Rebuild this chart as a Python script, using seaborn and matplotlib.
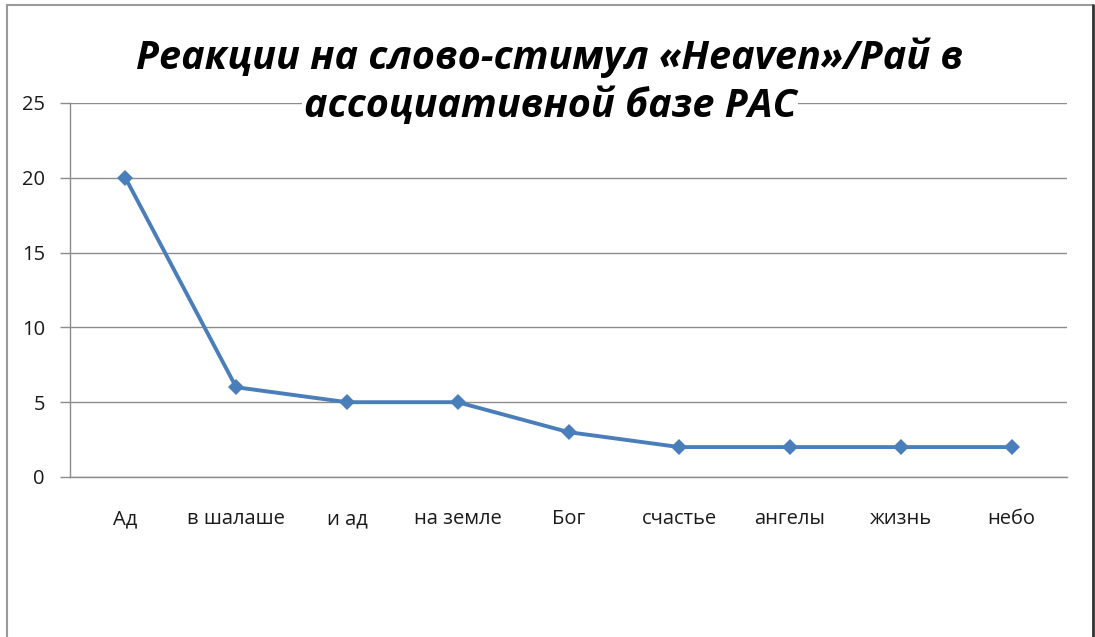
import matplotlib
matplotlib.use("Agg")
import matplotlib.pyplot as plt
from matplotlib.lines import Line2D
import seaborn as sns
import numpy as np

# data
categories = ["Ад", "в шалаше", "и ад", "на земле", "Бог", "счастье", "ангелы", "жизнь", "небо"]
counts = [20, 6, 5, 5, 3, 2, 2, 2, 2]
y_ticks = [0, 5, 10, 15, 20, 25]
title_lines = ["Реакции на слово-стимул «Heaven»/Рай в", "ассоциативной базе РАС"]

sns.set_style("white")
plt.rcParams["font.family"] = ["Open Sans", "DejaVu Sans"]

fig = plt.figure(figsize=(10.95, 6.37), dpi=100)
ax = fig.add_axes([70 / 1095, 1 - 477 / 637, 997 / 1095, 374 / 637])

sns.lineplot(x=categories, y=counts, ax=ax, color="#4A7EBB", linewidth=2.8,
             marker="D", markersize=8.5, markeredgewidth=0, sort=False)

ax.set_xlim(-0.5, len(categories) - 0.5)
ax.set_ylim(0, 25)
ax.set_yticks(y_ticks)
ax.set_xticks(np.arange(len(categories)))
ax.set_xticklabels(categories)
ax.set_xticks(np.arange(len(categories) + 1) - 0.5, minor=True)
ax.tick_params(axis="x", which="major", length=0, pad=23, labelsize=14.5, colors="#1A1A1A")
ax.tick_params(axis="x", which="minor", length=7, width=1, color="#8C8C8C", direction="out")
ax.tick_params(axis="y", length=7, width=1, color="#8C8C8C", direction="out",
               pad=11, labelsize=14.5, labelcolor="#1A1A1A", left=True)
ax.yaxis.grid(True, color="#8C8C8C", linewidth=1)
ax.xaxis.grid(False)
ax.set_axisbelow(True)
for side in ["top", "right"]:
    ax.spines[side].set_visible(False)
for side in ["left", "bottom"]:
    ax.spines[side].set_color("#8C8C8C")
    ax.spines[side].set_linewidth(1)
ax.set_xlabel("")
ax.set_ylabel("")

# title, two lines, each with its own white box over the gridline
for line, y_px in zip(title_lines, [58, 107]):
    fig.text(550 / 1095, 1 - y_px / 637, line, ha="center", va="center",
             fontsize=28.5, fontstyle="italic", fontweight="bold", color="black",
             bbox=dict(facecolor="white", edgecolor="none", pad=1), zorder=5)

# chart frame
fig.add_artist(Line2D([7 / 1095, 7 / 1095], [0, 1 - 5 / 637], transform=fig.transFigure,
                      color="#9A9A9A", linewidth=1.5))
fig.add_artist(Line2D([7 / 1095, 1093 / 1095], [1 - 5 / 637, 1 - 5 / 637],
                      transform=fig.transFigure, color="#9A9A9A", linewidth=1.5))
fig.add_artist(Line2D([1093 / 1095, 1093 / 1095], [0, 1 - 5 / 637], transform=fig.transFigure,
                      color="#333333", linewidth=2))

fig.savefig("out.png", dpi=100)
